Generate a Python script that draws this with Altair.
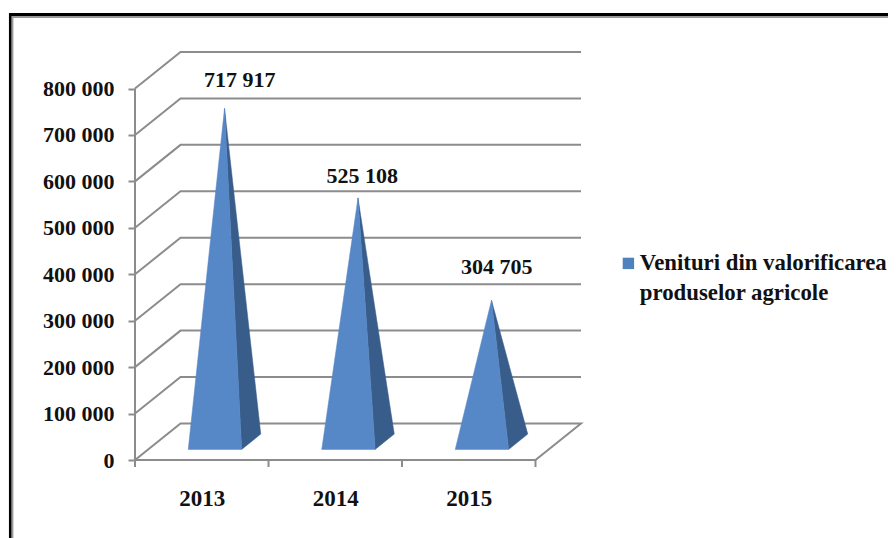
import altair as alt
import pandas as pd

# ---- data
years = ["2013", "2014", "2015"]
values = [717917, 525108, 304705]
labels = ["717 917", "525 108", "304 705"]
axis_values = [0, 100000, 200000, 300000, 400000, 500000, 600000, 700000, 800000]
series_lines = ["Venituri din valorificarea", "produselor agricole"]

# ---- style / 3D projection (in data units)
PLOT_W, PLOT_H = 446, 408
DEPTH_X = 0.341        # how far the back wall lies to the right, in categories
DEPTH_Y = 78660        # how far the back wall lies upward, in value units
HALF_BASE = 0.2        # half-width of the pyramid's base, in categories
NEAR, FAR = 0.29, 0.71  # depth of base's front and back edge
FONT = "Liberation Serif"
FS = 22
INK = "#111111"
FRONT, SIDE = "#4f81bd", "#385d8a"
GRID = "#8c8c8c"
LABEL_DX = [38, 27, 28]
LABEL_DY = [-47, -40, -52]

xs = alt.Scale(domain=[0, 3 + DEPTH_X], nice=False, zero=False)
ys = alt.Scale(domain=[0, 800000 + DEPTH_Y], nice=False, zero=False)
x_axis = alt.Axis(values=[0.5, 1.5, 2.5], title=None, grid=False, domain=False, ticks=False,
                  labelPadding=27, labelFont=FONT, labelFontSize=23, labelFontWeight="bold",
                  labelColor=INK, labelExpr="['" + "','".join(years) + "'][floor(datum.value)]")
y_axis = alt.Axis(values=axis_values, title=None, grid=False, domain=False,
                  tickColor=GRID, tickWidth=2, tickSize=7, labelPadding=14,
                  labelFont=FONT, labelFontSize=FS, labelFontWeight="bold", labelColor=INK,
                  labelExpr="replace(format(datum.value, ',d'), ',', ' ')")
X = alt.X("x:Q", scale=xs, axis=x_axis)
Y = alt.Y("y:Q", scale=ys, axis=y_axis)

# grid lines: front-left corner -> back wall -> right end
grid_rows = []
for v in axis_values:
    pts = [(0, v), (DEPTH_X, v + DEPTH_Y), (3 + DEPTH_X, v + DEPTH_Y)]
    if v == 0:
        pts = [(0, 0), (3, 0), (3 + DEPTH_X, DEPTH_Y), (DEPTH_X, DEPTH_Y), (0, 0)]
    for i, (x, y) in enumerate(pts):
        grid_rows.append({"g": v, "i": i, "x": x, "y": y})
grid = alt.Chart(pd.DataFrame(grid_rows)).mark_line(color=GRID, strokeWidth=2).encode(
    x=X, y=Y, detail="g:N", order="i:Q")

# front value axis line
axis_line = alt.Chart(pd.DataFrame({"x": [0], "y": [0], "y2": [800000]})).mark_rule(
    color=GRID, strokeWidth=2).encode(x=X, y=Y, y2="y2:Q")

# category ticks
tick_df = pd.DataFrame({"x": [0, 1, 2, 3], "y": [0, 0, 0, 0]})
cat_ticks = alt.Chart(tick_df).mark_rule(color=GRID, strokeWidth=2).encode(
    x=X, y=Y, y2=alt.value(PLOT_H + 7))

# pyramids
front_rows, side_rows = [], []
for k, v in enumerate(values):
    c = k + 0.5
    ax, ay = c + DEPTH_X / 2, v + DEPTH_Y / 2
    lx = c + NEAR * DEPTH_X - HALF_BASE
    rx = c + NEAR * DEPTH_X + HALF_BASE
    by = NEAR * DEPTH_Y
    bx2 = c + FAR * DEPTH_X + HALF_BASE
    by2 = FAR * DEPTH_Y
    for i, (x, y) in enumerate([(lx, by), (rx, by), (ax, ay), (lx, by)]):
        front_rows.append({"k": k, "i": i, "x": x, "y": y})
    for i, (x, y) in enumerate([(rx, by), (bx2, by2), (ax, ay), (rx, by)]):
        side_rows.append({"k": k, "i": i, "x": x, "y": y})

side = alt.Chart(pd.DataFrame(side_rows)).mark_line(fill=SIDE, stroke=SIDE, strokeWidth=0.5).encode(
    x=X, y=Y, detail="k:N", order="i:Q")
front = alt.Chart(pd.DataFrame(front_rows)).mark_line(fill="#5687c6", stroke="#5687c6", strokeWidth=0.5).encode(
    x=X, y=Y, detail="k:N", order="i:Q")

# legend: one entry per line of the wrapped series name; only the first shows a symbol
legend_layer = alt.Chart(pd.DataFrame({"series": series_lines, "x": [0, 0], "y": [0, 0]})).mark_point(
    opacity=0, shape="square", filled=True).encode(
    x=X, y=Y,
    color=alt.Color("series:N", sort=series_lines,
                    scale=alt.Scale(domain=series_lines, range=[FRONT, "transparent"]),
                    legend=alt.Legend(title=None, orient="none", legendX=482, legendY=200, symbolType="square",
                                      symbolSize=130, symbolOpacity=1, labelFont=FONT, labelFontSize=22.8,
                                      labelFontWeight="bold", labelColor=INK, labelLimit=400,
                                      labelOffset=0, rowPadding=6)))

# data labels
label_layers = []
for k, v in enumerate(values):
    df = pd.DataFrame({"x": [k + 0.5], "y": [v], "t": [labels[k]]})
    label_layers.append(alt.Chart(df).mark_text(font=FONT, fontSize=FS, fontWeight="bold", color=INK,
                                                dx=LABEL_DX[k], dy=LABEL_DY[k]).encode(x=X, y=Y, text="t:N"))

# outer frame, page pixels shifted to the plot area's origin (page 135, 52)
def rule(x, y, x2=None, y2=None, color="#000000", w=3.0):
    enc = dict(x=alt.value(x - 135), y=alt.value(y - 52))
    if x2 is not None:
        enc["x2"] = alt.value(x2 - 135)
    if y2 is not None:
        enc["y2"] = alt.value(y2 - 52)
    return alt.Chart(pd.DataFrame({"a": [0]})).mark_rule(color=color, strokeWidth=w).encode(**enc)

frame = [rule(11.5, 17, 896, None, color="#999999", w=2),
         rule(12.4, 16, None, 538, color="#999999", w=2),
         rule(9, 14.5, 896, None),
         rule(10.2, 13, None, 538, w=2.5)]

chart = alt.layer(*frame, grid, axis_line, cat_ticks, side, front, legend_layer, *label_layers).properties(
    width=PLOT_W, height=PLOT_H, padding={"left": 127, "top": 44, "right": 307, "bottom": 78},
    autosize=alt.AutoSizeParams(type="none")
).configure_view(stroke=None)

chart.save("out.html", embed_options={"renderer": "svg", "actions": False})
